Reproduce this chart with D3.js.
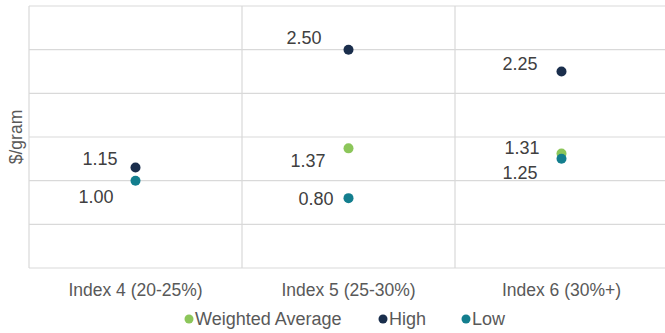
<!DOCTYPE html>
<html><head><meta charset="utf-8">
<script src="https://cdn.jsdelivr.net/npm/d3@7"></script>
<style>body{margin:0;background:#fff;}svg{display:block;font-family:"Liberation Sans",Arial,sans-serif;}</style>
</head><body>
<svg id="c" width="665" height="333"></svg>
<script>
const categories = ["Index 4 (20-25%)", "Index 5 (25-30%)", "Index 6 (30%+)"];
const weightedAverage = [null, 1.37, 1.31];
const high = [1.15, 2.50, 2.25];
const low = [1.00, 0.80, 1.25];
const yTicks = [0, 0.5, 1, 1.5, 2, 2.5, 3];
const seriesNames = ["Weighted Average", "High", "Low"];
// label placement (dx to text end, dy of text centre), per series per category
const labelPlacement = {
  "Weighted Average": [null, [-23, 12], [-22, -6]],
  "High": [[-18, -9], [-27, -12], [-24, -8]],
  "Low": [[-22, 16], [-15, 1], [-24, 14]]
};
const colors = {"Weighted Average": "#8cc65a", "High": "#1a2e4c", "Low": "#137e8e"};

const series = [
  {name: "Weighted Average", values: weightedAverage},
  {name: "High", values: high},
  {name: "Low", values: low}
];

const svg = d3.select("#c");
const x = d3.scaleBand().domain(categories).range([29, 668]);
const y = d3.scaleLinear().domain([0, 3]).range([268, 6]);

const grid = svg.append("g");
grid.selectAll("line.h").data(yTicks).join("line")
  .attr("x1", 29).attr("x2", 668)
  .attr("y1", d => y(d)).attr("y2", d => y(d))
  .attr("stroke", "#d9d9d9").attr("stroke-width", 1.2);
grid.selectAll("line.v").data(categories).join("line")
  .attr("x1", d => x(d)).attr("x2", d => x(d))
  .attr("y1", y(3)).attr("y2", y(0))
  .attr("stroke", "#d9d9d9").attr("stroke-width", 1.2);

const xAxis = svg.append("g").attr("transform", `translate(0,${y(0)})`)
  .call(d3.axisBottom(x).tickSize(0).tickPadding(16));
xAxis.select(".domain").remove();
xAxis.selectAll("text").attr("font-size", 17.5).attr("fill", "#595959")
  .attr("font-family", "Liberation Sans, Arial, sans-serif");

svg.append("text").attr("transform", `translate(22,137) rotate(-90)`)
  .attr("text-anchor", "middle").attr("font-size", 17.5).attr("fill", "#595959")
  .text("$/gram");

series.forEach(s => {
  const pts = categories.map((c, i) => ({c, v: s.values[i], i})).filter(d => d.v != null);
  const g = svg.append("g");
  g.selectAll("circle").data(pts).join("circle")
    .attr("cx", d => x(d.c) + x.bandwidth() / 2)
    .attr("cy", d => y(d.v))
    .attr("r", 5).attr("fill", colors[s.name]);
});
series.forEach(s => {
  const pts = categories.map((c, i) => ({c, v: s.values[i], i})).filter(d => d.v != null);
  svg.append("g").selectAll("text").data(pts).join("text")
    .attr("x", d => x(d.c) + x.bandwidth() / 2 + labelPlacement[s.name][d.i][0])
    .attr("y", d => y(d.v) + labelPlacement[s.name][d.i][1])
    .attr("dy", "0.35em").attr("text-anchor", "end")
    .attr("font-size", 18).attr("fill", "#404040")
    .text(d => d3.format(".2f")(d.v));
});

const legendItems = [
  {name: "Weighted Average", x: 189},
  {name: "High", x: 383},
  {name: "Low", x: 466}
];
const lg = svg.append("g");
legendItems.forEach(it => {
  lg.append("circle").attr("cx", it.x).attr("cy", 319).attr("r", 4.5).attr("fill", colors[it.name]);
  lg.append("text").attr("x", it.x + 6).attr("y", 319).attr("dy", "0.35em")
    .attr("font-size", 18).attr("fill", "#595959").text(it.name);
});
</script>
</body></html>
